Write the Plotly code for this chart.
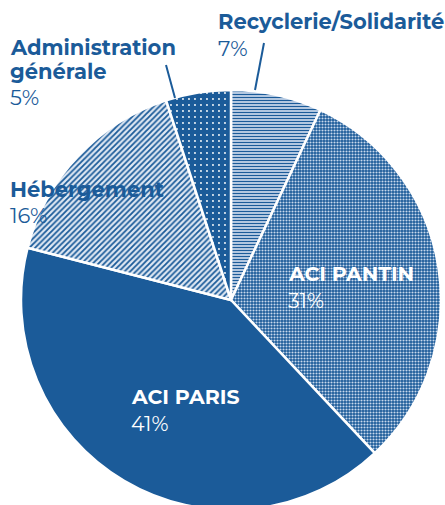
import plotly.graph_objects as go

labels = ["Recyclerie/Solidarité", "ACI PANTIN", "ACI PARIS", "Hébergement", "Administration générale"]
values = [7, 31, 41, 16, 5]
pct_text = ["7%", "31%", "41%", "16%", "5%"]

DARK = "#1b5b99"
LIGHT = "#c3d3e8"

shapes_pat = ["-", ".", "", "/", "."]
fg = [DARK, "#c8d8ec", DARK, DARK, "#ffffff"]
bg = [LIGHT, DARK, DARK, "#dfe8f3", DARK]
sizes = [3, 3, 8, 4, 6]
solid = [0.4, 0.4, 0.3, 0.45, 0.08]

W, H = 445, 510

fig = go.Figure(go.Pie(
    labels=labels, values=values, sort=False, direction="clockwise", rotation=0,
    textinfo="none", hoverinfo="label+percent",
    marker=dict(colors=[LIGHT, DARK, DARK, "#ffffff", DARK],
                line=dict(color="white", width=2.5),
                pattern=dict(shape=shapes_pat, fgcolor=fg, bgcolor=bg,
                             size=sizes, solidity=solid, fillmode="replace")),
    domain=dict(x=[21 / W, 441 / W], y=[0, 420 / H]),
    showlegend=False,
))

F = "Montserrat, 'Open Sans', sans-serif"
def ann(x, y, text, color, bold, size):
    return dict(x=x, y=y, xref="paper", yref="paper", xanchor="left", yanchor="middle",
                text=("<b>%s</b>" % text) if bold else text, showarrow=False,
                font=dict(family=F, size=size, color=color))

def px(x, y):
    return x / W, 1 - y / H

annots = []
for (x, y, t, c, b, s) in [
    (216, 22, labels[0], DARK, True, 21), (216, 48, pct_text[0], DARK, False, 21),
    (8, 47, "Administration", DARK, True, 21), (8, 72, "générale", DARK, True, 21), (8, 97, pct_text[4], DARK, False, 21),
    (8, 189, labels[3], DARK, True, 21), (8, 215, pct_text[3], DARK, False, 21),
    (286, 273, labels[1], "white", True, 20.5), (286, 300, pct_text[1], "white", False, 20.5),
    (129, 396, labels[2], "white", True, 20.5), (129, 423, pct_text[2], "white", False, 20.5),
]:
    xx, yy = px(x, y)
    annots.append(ann(xx, yy, t, c, b, s))

lines = []
for (x0, y0, x1, y1) in [(264, 43, 255, 90), (166, 65, 175, 98)]:
    a0, b0 = px(x0, y0); a1, b1 = px(x1, y1)
    lines.append(dict(type="line", xref="paper", yref="paper", x0=a0, y0=b0, x1=a1, y1=b1,
                      line=dict(color=DARK, width=2)))

fig.update_layout(width=W, height=H, margin=dict(l=0, r=0, t=0, b=0),
                  paper_bgcolor="white", plot_bgcolor="white",
                  annotations=annots, shapes=lines)
fig.write_html("out.html", config={"displayModeBar": False},
               post_script="document.body.style.margin='0';document.body.style.overflow='hidden';")
